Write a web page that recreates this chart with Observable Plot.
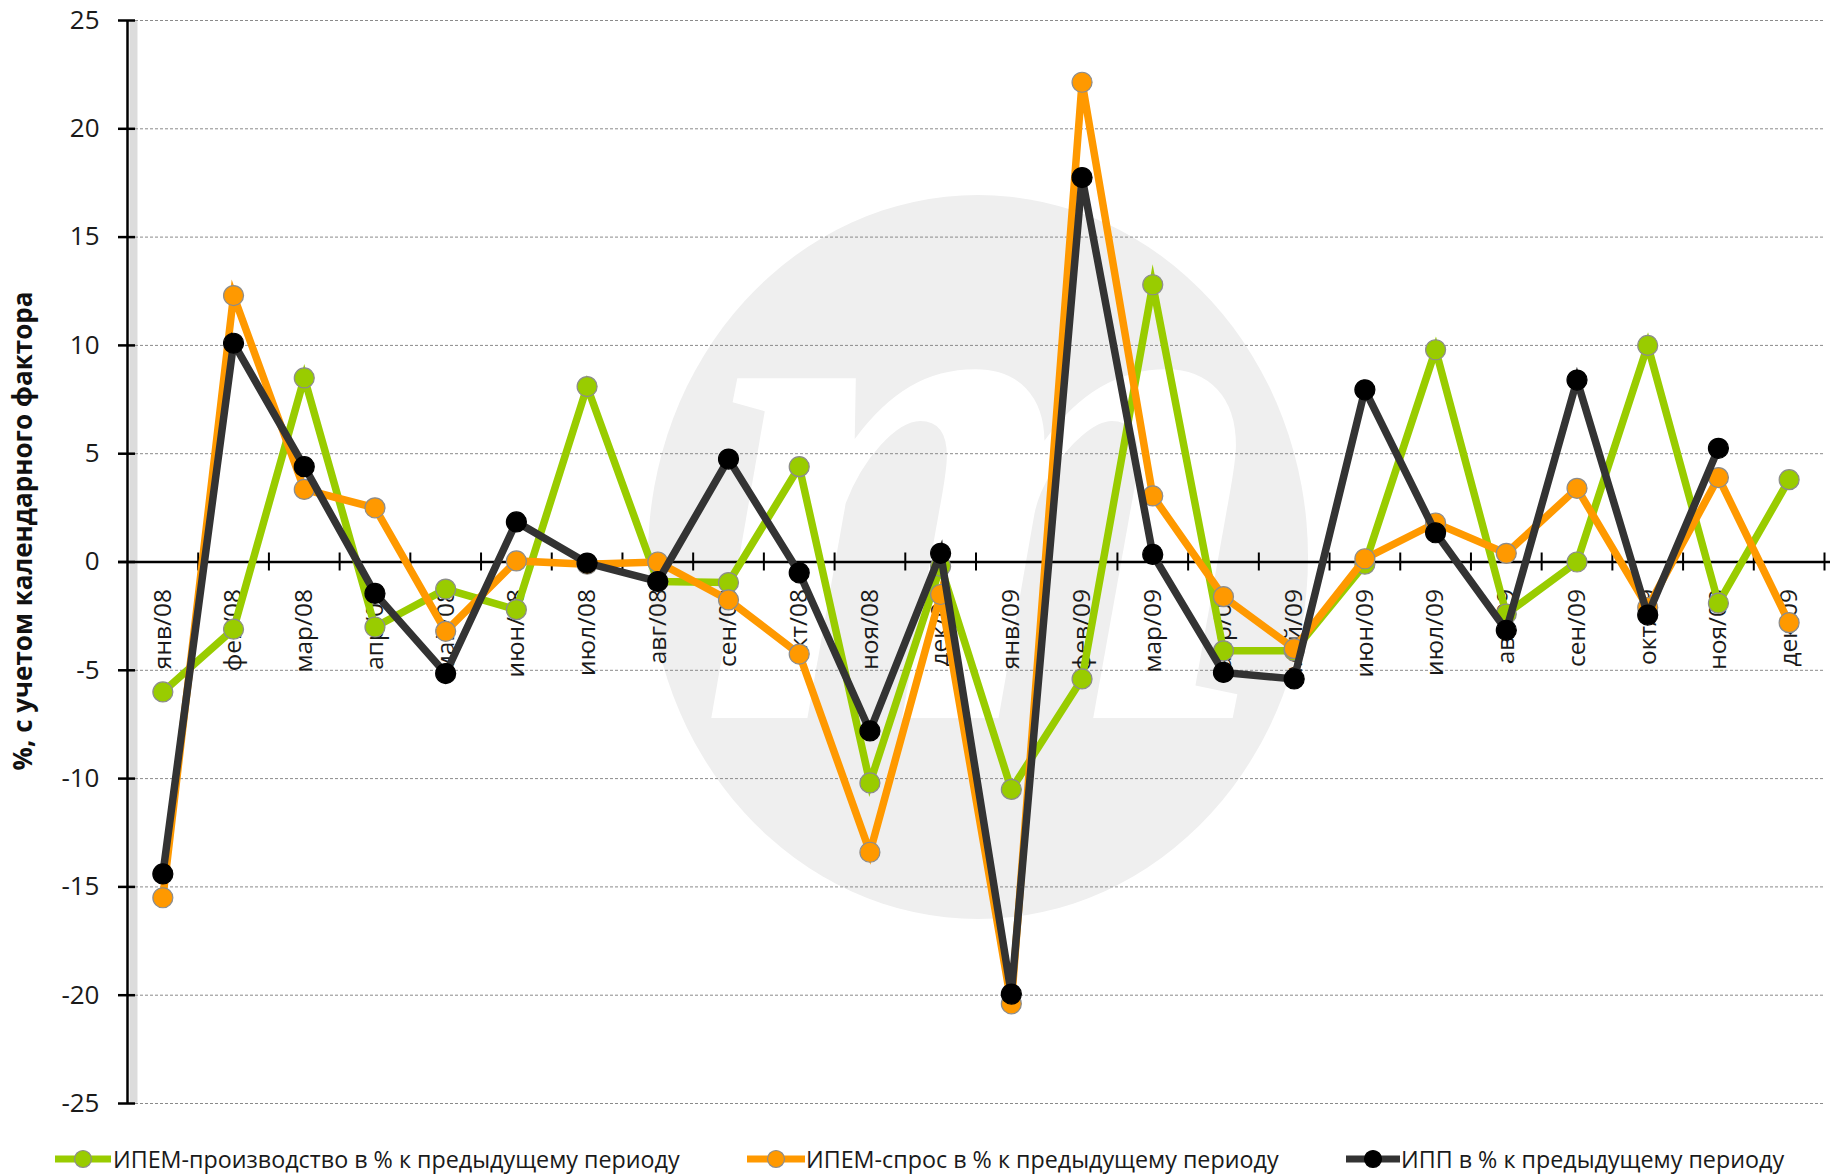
<!DOCTYPE html>
<html><head><meta charset="utf-8">
<script src="https://cdn.jsdelivr.net/npm/d3@7"></script>
<script src="https://cdn.jsdelivr.net/npm/@observablehq/plot@0.6"></script>
<style>
body{margin:0;background:#fff;font-family:"Open Sans",sans-serif;}
#wrap{position:relative;width:1830px;height:1176px;overflow:hidden;}
#wrap > svg.mainplot{position:absolute;left:0;top:0;}
#wrap .lg{position:absolute;top:1140px;height:38px;display:flex;align-items:center;font-size:23.3px;color:#1a1a1a;white-space:nowrap;}
#wrap > svg.mk{position:absolute;top:1149px;}
</style></head><body><div id="wrap"></div>
<script>
const months = ["янв/08","фев/08","мар/08","апр/08","май/08","июн/08","июл/08","авг/08","сен/08","окт/08","ноя/08","дек/08",
                "янв/09","фев/09","мар/09","апр/09","май/09","июн/09","июл/09","авг/09","сен/09","окт/09","ноя/09","дек/09"];
const prod   = [-6.0,-3.1,8.5,-3.0,-1.25,-2.2,8.1,-0.9,-0.95,4.4,-10.2,-0.2,-10.5,-5.4,12.8,-4.1,-4.1,-0.1,9.8,-2.4,0.0,10.0,-1.9,3.8];
const demand = [-15.5,12.3,3.35,2.5,-3.2,0.05,-0.1,0.0,-1.75,-4.25,-13.4,-1.5,-20.4,22.15,3.05,-1.6,-4.0,0.15,1.8,0.4,3.4,-2.1,3.9,-2.8];
const ipp    = [-14.4,10.1,4.4,-1.45,-5.15,1.85,-0.05,-0.9,4.75,-0.5,-7.8,0.4,-19.95,17.75,0.35,-5.1,-5.4,7.95,1.35,-3.15,8.4,-2.45,5.25];
const seriesNames = ["ИПЕМ-производство в % к предыдущему периоду","ИПЕМ-спрос в % к предыдущему периоду","ИПП в % к предыдущему периоду"];
const yTicks = [-25,-20,-15,-10,-5,0,5,10,15,20,25];
const yTitle = "%, с учетом календарного фактора";

const lineColors = ["#99cc00","#ff9900","#333333"];
const dotColors  = ["#99cc00","#ff9900","#000000"];
const dotStroke  = ["#8c8c8c","#8c8c8c","#000000"];
const seriesVals = [prod, demand, ipp];

const seriesMarks = [];
seriesVals.forEach((vals, s) => {
  const rows = vals.map((v, i) => ({i, v, m: months[i]}));
  seriesMarks.push(Plot.line(rows, {x: "i", y: "v", stroke: lineColors[s], strokeWidth: 7.5, strokeLinejoin: "miter", strokeMiterlimit: 6}));
  seriesMarks.push(Plot.dot(rows, {x: "i", y: "v", r: 10, fill: dotColors[s], stroke: dotStroke[s], strokeWidth: 1.2}));
});

const chart = Plot.plot({
  width: 1830, height: 1125,
  marginLeft: 127, marginRight: 6, marginTop: 20, marginBottom: 22,
  x: {type: "linear", domain: [-0.5, 23.5], axis: null},
  y: {domain: [-25, 25], axis: null},
  style: {fontFamily: "Open Sans", background: "transparent", overflow: "visible"},
  marks: [
    Plot.ruleX([-0.5], {y1: -25, y2: 25, stroke: "#9a9a9a", strokeWidth: 8, dx: 6, strokeOpacity: 0.35, ariaLabel: "axshadow"}),
    Plot.ruleY(yTicks.filter(v => v !== 0), {stroke: "#8a8a8a", strokeWidth: 1, strokeDasharray: "3,2", insetLeft: 8}),
    Plot.text(months, {x: (d, i) => i, y: 0, text: d => d, rotate: -90, textAnchor: "end", dy: 27, fontSize: 24.5, fill: "#1a1a1a"}),
    Plot.ruleX([-0.5], {y1: -25, y2: 25, stroke: "#000", strokeWidth: 2.5}),
    Plot.ruleY(yTicks, {x1: -0.5, x2: -0.5, insetLeft: -9, insetRight: -8, stroke: "#000", strokeWidth: 2.5}),
    Plot.ruleY([0], {stroke: "#000", strokeWidth: 2.5, insetLeft: -9, insetRight: -6}),
    Plot.ruleX(d3.range(1, 25).map(k => k - 0.5), {y1: 0, y2: 0, insetTop: -9, insetBottom: -9, stroke: "#000", strokeWidth: 2}),
    Plot.text(yTicks, {x: -0.5, y: d => d, text: d => String(d), textAnchor: "end", dx: -28, fontSize: 26, fill: "#1a1a1a"}),
    Plot.text([yTitle], {frameAnchor: "left", textAnchor: "middle", rotate: -90, dx: -104, dy: -31, fontWeight: "bold", fontSize: 26, fill: "#111"}),
    ...seriesMarks
  ]
});
chart.classList.add("mainplot");

// decorative watermark + axis shadow blur
const svg = d3.select(chart);
const defs = svg.insert("defs", ":first-child");
defs.append("filter").attr("id", "blr").attr("x", "-50%").attr("width", "200%")
  .append("feGaussianBlur").attr("stdDeviation", 3);
svg.select('g[aria-label="axshadow"]').attr("filter", "url(#blr)");
const wm = svg.insert("g", "defs + *");
wm.append("ellipse").attr("cx", 978).attr("cy", 557).attr("rx", 330).attr("ry", 362).attr("fill", "#efefef");
wm.append("text").attr("x", 985).attr("y", 718).attr("text-anchor", "middle")
  .attr("font-family", "Liberation Serif").attr("font-style", "italic").attr("font-weight", "bold")
  .attr("font-size", 740).attr("fill", "#ffffff").text("m");

const wrap = document.getElementById("wrap");
wrap.appendChild(chart);

// legend
const legPos = [{m: 55, w: 56, t: 113}, {m: 747, w: 58, t: 806}, {m: 1346, w: 54, t: 1401}];
seriesNames.forEach((name, s) => {
  const p = legPos[s];
  const mk = d3.select(wrap).append("svg").attr("class", "mk").style("left", p.m + "px")
    .attr("width", p.w).attr("height", 20);
  mk.append("line").attr("x1", 0).attr("x2", p.w).attr("y1", 10).attr("y2", 10)
    .attr("stroke", lineColors[s]).attr("stroke-width", 7);
  mk.append("circle").attr("cx", p.w / 2).attr("cy", 10).attr("r", 8.5)
    .attr("fill", dotColors[s]).attr("stroke", dotStroke[s]).attr("stroke-width", 1.2);
  d3.select(wrap).append("div").attr("class", "lg").style("left", p.t + "px").text(name);
});
</script>
</body></html>
